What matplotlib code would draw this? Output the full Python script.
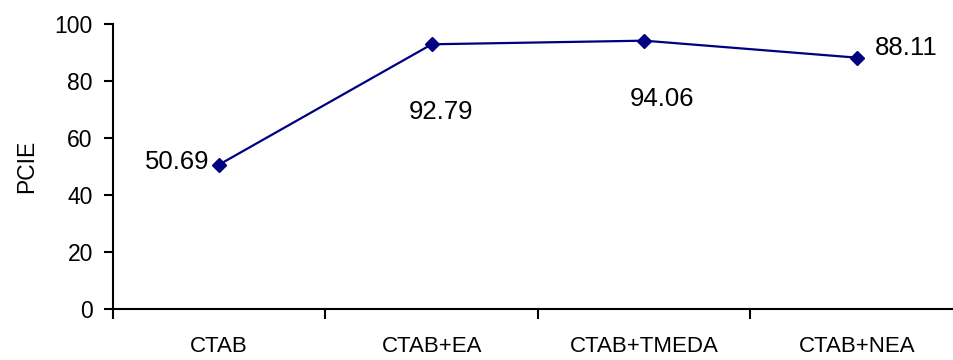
import matplotlib.pyplot as plt

plt.rcParams['font.family'] = ['Liberation Sans', 'DejaVu Sans']

samples = ['CTAB', 'CTAB+EA', 'CTAB+TMEDA', 'CTAB+NEA']
pcie = [50.69, 92.79, 94.06, 88.11]
# label offsets in pixels (dx, dy, horizontal alignment)
label_pos = [(-10, 3, 'right'), (9, -68, 'center'), (18, -58, 'center'), (18, 10, 'left')]

fig = plt.figure(figsize=(9.54, 3.6), dpi=100)
ax = fig.add_axes([113 / 954, 50.7 / 360, 850 / 954, 285.6 / 360])

x = list(range(len(samples)))
ax.plot(x, pcie, color='#000080', lw=1.6, marker='D', ms=7.5,
        markerfacecolor='#000080', markeredgecolor='#000080', clip_on=False)

for xi, v, (dx, dy, ha) in zip(x, pcie, label_pos):
    ax.annotate(f'{v:.2f}', (xi, v), xytext=(dx, dy), textcoords='offset pixels',
                ha=ha, va='center', fontsize=18.5, color='black')

ax.set_xlim(-0.5, 3.5)
ax.set_ylim(0, 100)
ax.set_yticks(range(0, 101, 20))
ax.set_xticks(x)
ax.set_xticklabels(samples, fontsize=16)
ax.set_xticks([-0.5, 0.5, 1.5, 2.5, 3.5], minor=True)
ax.tick_params(axis='x', which='major', length=0, pad=19)
ax.tick_params(axis='x', which='minor', length=7, width=1.5, direction='out')
ax.tick_params(axis='y', length=6.5, width=1.5, direction='out', labelsize=16.5, pad=8)
ax.set_ylabel('PCIE', fontsize=16.5, labelpad=12)

for side in ['top', 'right']:
    ax.spines[side].set_visible(False)
for side in ['left', 'bottom']:
    ax.spines[side].set_linewidth(1.5)

fig.savefig('out.png', dpi=100)
